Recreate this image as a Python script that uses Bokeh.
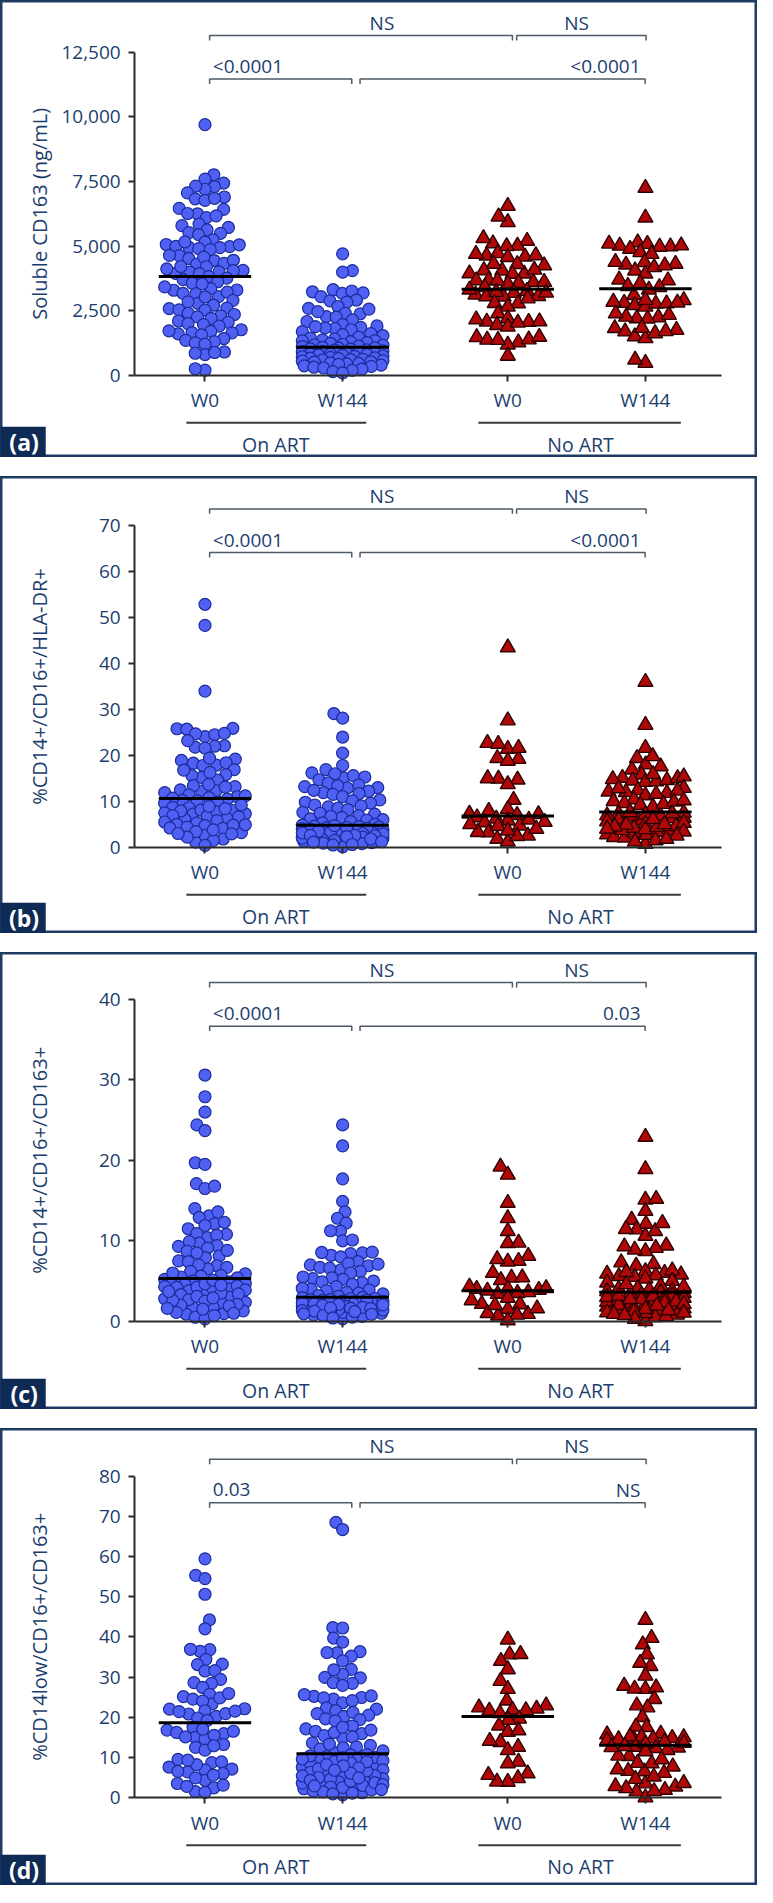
import math
from bokeh.plotting import figure
from bokeh.layouts import column
from bokeh.models import Range1d, LinearAxis, FixedTicker, NumeralTickFormatter
from bokeh.core.properties import value
from bokeh.embed import file_html
from bokeh.resources import INLINE

# ---------------- data ----------------
tick_labels = ["W0", "W144", "W0", "W144"]
art_labels = ["On ART", "No ART"]
panel_letters = ["(a)", "(b)", "(c)", "(d)"]
y_titles = ["Soluble CD163 (ng/mL)", "%CD14+/CD16+/HLA-DR+",
            "%CD14+/CD16+/CD163+", "%CD14low/CD16+/CD163+"]
y_max = [12500, 70, 40, 80]
y_step = [2500, 10, 10, 10]

# p-value labels: [W0 vs W144 On ART, W144 On vs W144 No, W0 On vs W0 No, W0 No vs W144 No]
a_tests = ["<0.0001", "<0.0001", "NS", "NS"]
b_tests = ["<0.0001", "<0.0001", "NS", "NS"]
c_tests = ["<0.0001", "0.03", "NS", "NS"]
d_tests = ["0.03", "NS", "NS", "NS"]

# centre lines
a_lines = [3824, 1087, 3327, 3350]
b_lines = [10.6, 4.8, 6.8, 7.7]
c_lines = [5.3, 3.0, 3.8, 3.6]
d_lines = [18.6, 10.9, 20.2, 13.0]

a_on_w0 = [9700, 7760, 7590, 7440, 7300, 7200, 7320, 7060, 6900, 6830, 6770, 6850,
           6420, 6460, 6250, 6100, 6170, 6260, 5790, 5720, 5850, 5630, 5490, 5520, 5440, 5240,
           5150, 5060, 4980, 4950, 4940, 4990, 5050, 5160, 4900, 4860,
           4630, 4520, 4440, 4330, 4300, 4450, 4570, 4640, 4200,
           4060, 3990, 3930, 3940, 4210, 4120, 4000, 4050, 3820, 3760, 3700, 3620, 3560,
           3300, 3160, 3040, 3350, 3540, 3290, 3170, 3220, 3420,
           2900, 2780, 2710, 2840, 3030, 2580, 2520, 2600, 2530,
           2400, 2350, 2300, 2260, 2200, 2100, 2050, 2000, 1960, 1900,
           1760, 1700, 1650, 1600, 1560, 1720, 1640, 1420, 1350, 1300, 1250, 1200,
           900, 800, 850, 880, 200, 250]
a_on_w144 = [4700, 4050, 3990, 3310, 3230, 3170, 3190, 3260, 3040, 2880, 2910, 2830, 2590, 2660,
             2400, 2380, 2270, 2250, 2140, 2080, 2560, 2460, 1960, 1910, 1850, 1810, 1760, 1690, 1830, 1880,
             1610, 1570, 1530, 1470, 1440, 1410, 1370, 1340, 1330, 1290, 1260, 1230, 1190, 1170, 1160, 1130, 1110,
             1080, 1060, 1050, 1020, 1010, 980, 975, 940, 925, 910, 890, 860, 855, 830, 815, 800, 785, 770,
             745, 730, 715, 690, 675, 660, 645, 615, 600, 590, 565, 550, 520, 505, 480, 455, 440, 420,
             390, 365, 340, 310, 280, 235, 190, 140, 90]
a_no_w0 = [6550, 5920, 6140, 5200, 5010, 4990, 5100, 5300, 4630, 4590, 4720, 4690, 4570, 4640,
           3930, 3940, 4050, 4250, 4310, 4300, 4060, 3920, 4080, 3600, 3670, 3540, 3680, 3570, 3610, 3660, 3410,
           3180, 3260, 3120, 3050, 3060, 3190, 3310, 3040, 3220, 2780, 2650, 2790, 2970,
           2390, 2200, 2070, 1940, 1880, 2060, 2080, 2030, 2160, 1470, 1370, 1270, 1380, 1180, 1360, 1480, 750]
a_no_w144 = [7250, 6100, 5140, 5010, 4980, 4890, 4970, 5020, 5080, 5090, 4760, 4690,
             4370, 4310, 4280, 4050, 3930, 4180, 4250, 4380, 3670, 3700, 3560, 3410, 3100, 3310, 3450,
             2900, 2800, 2710, 2650, 2770, 2840, 2780, 2810, 2910, 2240, 2200, 2190, 2260, 2330, 2390,
             1820, 1750, 1690, 1500, 1430, 1620, 1700, 1830, 470, 600]

b_on_w0 = [52.9, 48.3, 34.0, 25.8, 25.9, 25.7, 24.1, 24.5, 24.7, 24.8, 22.1, 21.8, 22.0, 23.2, 21.6,
           19.2, 18.3, 17.8, 17.9, 18.4, 19.4, 18.9, 16.9, 15.8, 15.2, 14.6, 15.6, 16.3, 16.8,
           13.2, 12.3, 12.2, 13.7, 13.4, 12.5, 11.9, 13.1, 11.4, 11.0, 10.8, 10.5, 10.2, 9.9, 11.2, 10.7, 10.1, 9.6,
           8.6, 8.0, 7.2, 6.4, 7.3, 8.1, 8.7, 6.8, 7.7, 6.1, 9.2, 8.9, 8.4, 7.9, 7.5, 6.9, 6.6, 5.8, 5.3,
           5.5, 5.0, 4.7, 4.4, 4.1, 3.2, 1.8, 1.1, 2.6, 3.4, 4.2, 4.8, 2.2, 3.0, 1.5, 0.4, 4.9, 3.8, 2.9]
b_on_w144 = [29.1, 28.1, 24.0, 20.5, 17.8, 16.2, 15.1, 16.9, 15.6, 14.7, 15.3, 16.0, 13.2, 13.6, 14.0, 13.0, 12.9, 13.4,
             12.2, 11.9, 11.5, 11.0, 12.4, 11.7, 10.3, 9.8, 9.2, 8.8, 8.5, 9.6, 10.1, 9.0, 8.2,
             7.6, 7.2, 6.9, 6.5, 6.2, 5.9, 5.6, 7.4, 6.7, 6.0, 5.3, 5.0, 4.8, 4.6, 4.4, 4.2, 4.0, 3.8, 3.6, 3.4, 3.2,
             4.5, 4.1, 3.9, 3.0, 2.7, 2.4, 2.2, 1.9, 1.6, 1.3, 1.0, 2.8, 2.0, 1.4, 0.8, 0.1,
             4.3, 3.7, 3.3, 3.1, 2.9, 2.6, 2.5, 2.3, 2.1, 1.8, 1.7, 1.5, 1.2, 0.9, 0.6, 3.5, 2.6, 1.1, 0.5, 4.7]
b_no_w0 = [43.5, 27.6, 22.7, 21.4, 19.2, 19.4, 18.8, 21.6, 22.5, 14.9, 14.7, 15.0, 13.7, 10.3,
           8.3, 7.2, 7.0, 5.8, 7.3, 7.9, 6.5, 6.2, 5.4, 4.7, 3.2, 2.5, 1.8, 1.2, 2.4, 3.3, 4.6, 5.0, 5.5, 6.0, 4.0, 3.6]
b_no_w144 = [36.0, 26.6, 21.6, 19.4, 17.6, 18.0, 19.8, 16.9, 15.8, 15.1, 14.8, 14.5, 14.2, 14.3, 14.6, 15.0, 15.4, 15.9,
             12.9, 12.4, 12.1, 11.8, 11.3, 11.6, 12.0, 12.3, 12.8, 10.4, 10.0, 9.6, 9.2, 8.8, 9.4, 9.9, 10.2,
             7.3, 6.9, 6.4, 6.0, 5.6, 5.9, 6.3, 6.7, 7.1, 7.5, 3.6, 3.3, 2.8, 2.2, 0.7, 2.1, 2.7, 3.2, 3.7,
             5.1, 4.6, 4.2, 3.9, 4.4, 4.9, 1.5, 1.2, 7.6, 7.4, 6.8, 6.1, 5.3, 5.0, 4.5, 4.0, 3.4, 2.5, 1.8]

c_on_w0 = [30.6, 27.9, 26.0, 24.4, 23.7, 19.7, 19.5, 17.1, 16.5, 16.8, 14.0, 13.1, 12.9, 13.6, 12.1, 12.3, 11.5, 11.9,
           10.8, 10.4, 10.7, 10.9, 9.7, 9.3, 9.4, 9.1, 9.9, 8.7, 8.1, 7.9, 8.5, 8.8, 7.5, 6.9, 6.5, 7.4, 6.7, 7.0, 6.2,
           5.9, 5.6, 5.4, 5.2, 5.0, 4.8, 5.5, 5.7, 6.0, 4.9, 4.6, 4.2, 4.0, 3.6, 3.8, 4.25, 4.05, 4.65, 3.3, 3.0,
           2.3, 1.7, 0.9, 0.5, 0.3, 0.95, 1.75, 2.35, 2.7, 2.0, 1.3, 1.1,
           5.1, 4.7, 4.4, 4.3, 3.9, 3.5, 3.4, 3.1, 2.8, 2.6, 2.5, 2.1, 1.9, 1.5, 1.0, 0.7, 4.5, 3.7, 2.9, 1.6]
c_on_w144 = [24.4, 21.8, 17.7, 14.9, 13.6, 12.8, 12.2, 11.2, 11.25, 10.0, 10.1, 8.5, 8.2, 8.6, 8.4, 8.0, 8.55,
             7.4, 7.0, 6.7, 6.4, 6.6, 7.2, 6.9, 6.2, 6.0, 7.1, 5.3, 5.5, 5.2, 5.0, 4.8, 4.6, 5.4, 4.9,
             4.3, 4.0, 3.8, 3.6, 3.4, 3.2, 4.1, 3.9, 3.5, 3.1, 2.9, 2.7, 2.5, 2.3, 2.1, 1.9, 1.7, 1.5, 2.8, 2.4, 2.2, 2.6,
             1.3, 1.0, 0.6, 0.3, 0.8, 1.1, 1.4, 1.8, 2.96, 2.83, 2.71, 2.62, 2.47, 2.31, 2.18, 2.04, 1.97, 1.83,
             1.72, 1.61, 1.58, 1.44, 1.33, 1.27, 1.12, 0.93, 0.87, 0.72, 0.52, 2.09, 1.66, 1.21, 0.41]
c_no_w0 = [19.2, 18.2, 14.7, 12.8, 11.2, 9.7, 9.75, 8.1, 7.5, 7.4, 7.7, 6.0, 5.4, 5.45, 5.1,
           4.0, 3.9, 4.1, 3.6, 3.4, 4.05, 3.8, 4.3, 3.5, 1.5, 0.9, 0.7, 2.1, 2.15, 1.6, 0.8, 1.0, 2.0, 2.6, 2.9, 0.1]
c_no_w144 = [22.9, 18.9, 15.1, 15.2, 13.7, 12.6, 12.1, 11.4, 10.6, 11.2, 11.45, 12.2, 9.4, 9.1, 8.7, 8.9, 9.3,
             7.3, 7.1, 6.9, 6.2, 6.0, 5.8, 5.6, 5.5, 5.7, 5.9, 6.1, 6.3, 5.3, 5.0, 4.8,
             4.4, 4.1, 3.9, 3.7, 3.5, 3.3, 3.4, 3.8, 4.0, 4.3, 4.6, 3.6, 2.5, 2.2, 1.9, 1.6, 1.3, 1.8, 2.1, 2.4, 2.7,
             2.9, 3.1, 1.1, 0.0, 0.5, 0.8, 1.0, 1.4, 3.2, 3.0, 2.8, 2.6, 2.3, 2.0, 1.7, 1.5, 1.2, 0.9, 0.6, 0.3,
             2.45, 1.95, 3.15, 2.75, 1.35, 0.75, 2.15, 1.05]

d_on_w0 = [59.4, 55.3, 54.5, 50.6, 44.2, 42.0, 36.8, 36.4, 36.9, 34.4, 33.1, 33.2, 31.5, 31.6, 29.4, 28.4, 28.6, 27.4, 25.7,
           25.1, 24.5, 23.3, 24.8, 25.9, 24.0, 20.8, 20.2, 22.0, 21.6, 22.1, 21.4, 20.9, 21.5, 19.8, 19.2,
           17.5, 16.8, 16.2, 15.9, 15.0, 14.6, 15.1, 15.5, 16.5, 17.0, 13.2, 12.5, 11.8, 12.9,
           9.5, 8.7, 7.6, 6.9, 6.4, 6.5, 7.1, 8.2, 9.3, 8.9, 6.0, 3.5, 2.4, 1.5, 1.3, 2.8, 4.3, 5.6, 4.9, 3.1]
d_on_w144 = [68.5, 66.7, 42.3, 42.2, 39.7, 38.7, 36.3, 36.0, 35.2, 36.1, 34.0, 31.9, 30.7, 29.8, 29.9, 31.8, 28.4, 28.6, 27.9,
             24.5, 25.2, 24.8, 24.9, 25.3, 25.6, 23.6, 24.1, 22.3, 21.6, 20.9, 20.2, 19.6, 19.1, 21.2, 22.0, 20.5, 19.4,
             17.8, 17.1, 16.5, 15.9, 15.4, 14.9, 16.2, 16.8, 17.5, 15.1, 13.6, 13.0, 12.6, 12.1, 11.6, 11.2, 12.4, 13.3,
             10.6, 10.2, 9.8, 9.4, 9.0, 8.6, 8.1, 7.6, 10.0, 9.2, 8.4, 6.9, 6.3, 5.8, 5.2, 4.7, 4.4, 3.9, 3.3, 2.8,
             2.2, 1.6, 0.7, 1.2, 2.5, 3.6, 4.1, 5.5, 6.6, 7.2, 5.0, 3.0, 1.9,
             10.7, 10.4, 9.6, 8.9, 8.2, 7.4, 6.1, 5.4, 4.6, 4.3, 3.7, 3.2, 2.6, 2.0, 1.4, 0.9, 9.9, 7.9, 6.8, 4.9, 2.9, 1.1]
d_no_w0 = [39.3, 35.6, 34.0, 35.7, 31.9, 29.0, 27.0, 24.1, 22.4, 21.6, 21.0, 22.9, 22.1, 21.8, 21.7,
           19.6, 19.3, 17.9, 16.3, 16.7, 12.6, 13.8, 14.1, 11.8, 8.9, 8.5, 6.0, 4.8, 3.9, 3.95, 5.6]
d_no_w144 = [44.2, 39.7, 38.1, 35.6, 32.7, 33.5, 30.3, 27.0, 27.8, 27.4, 27.1, 24.5, 22.4, 22.9, 20.0, 17.5, 17.6,
             15.0, 14.8, 14.5, 14.6, 15.1, 15.9, 15.7, 15.2, 14.7, 12.3, 10.3, 12.4, 10.4, 11.8, 12.6,
             8.5, 7.7, 6.5, 6.1, 6.6, 7.0, 8.6, 3.5, 2.7, 1.9, 1.5, 0.0, 1.6, 2.3, 2.8, 3.6,
             13.6, 13.9, 14.2, 13.4, 12.8, 12.5, 11.5, 9.5, 5.2, 4.6]

panel_groups = [[a_on_w0, a_on_w144, a_no_w0, a_no_w144],
                [b_on_w0, b_on_w144, b_no_w0, b_no_w144],
                [c_on_w0, c_on_w144, c_no_w0, c_no_w144],
                [d_on_w0, d_on_w144, d_no_w0, d_no_w144]]
panel_lines = [a_lines, b_lines, c_lines, d_lines]
panel_tests = [a_tests, b_tests, c_tests, d_tests]

# ---------------- layout / style ----------------
FIG_W, FIG_H, GAP = 757, 457, 19
REF_W, REF_H = 770.0, 461.0          # reference panel size (px)
PXU = 14.0                            # reference px per x unit
POS = [10, 20, 32, 42]                # x positions of the four columns
W0_PX = 208.0                         # px from panel left to first column
ZERO_PX = [378.0, 374.0, 372.0, 372.3]   # px from panel top to y = 0
TOP_PX = [52.3, 49.7, 47.3, 48.0]        # px from panel top to top tick

NAVY = "#1d3b63"
TXT = "#1c3e6e"
BOX = "#0d2b55"
AXC = "#2a2a2a"
BLUE, BLUE_EDGE = "#4f60f2", "#1c2c9c"
RED, RED_EDGE = "#b00808", "#2c0202"
FONT = "Open Sans"
FS = "19px"


def swarm(vals, upp, d, half):
    ys = [v / upp for v in vals]
    order = sorted(range(len(vals)), key=lambda i: ys[i])
    xs = [0.0] * len(vals)
    done = []
    flip = 1
    for i in order:
        y = ys[i]
        near = [(xs[j], y - ys[j]) for j in done if abs(y - ys[j]) < d]
        blocked = []
        for x, dy in near:
            w = math.sqrt(d * d - dy * dy)
            blocked.append((x - w, x + w))
        cands = {0.0}
        for a, b in blocked:
            cands.add(a)
            cands.add(b)
        ok = [c for c in cands if abs(c) <= half and
              all(not (a + 1e-6 < c < b - 1e-6) for a, b in blocked)]
        if ok:
            best = min(ok, key=lambda c: (round(abs(c), 3), -flip * c))
        else:
            best = min((half * k / 10.0 for k in range(-10, 11)),
                       key=lambda c: sum(max(0.0, d - math.hypot(c - x, dy)) for x, dy in near))
        flip = -flip
        xs[i] = best
        done.append(i)
    return xs


figs = []
for k in range(4):
    ymax = y_max[k]
    upp = ymax / (ZERO_PX[k] - TOP_PX[k])
    y0 = -(REF_H - ZERO_PX[k]) * upp
    y1 = ymax + TOP_PX[k] * upp
    x0 = POS[0] - W0_PX / PXU
    x1 = x0 + REF_W / PXU

    p = figure(width=FIG_W, height=FIG_H, x_range=Range1d(x0, x1), y_range=Range1d(y0, y1),
               output_backend="svg", toolbar_location=None, x_axis_type=None, y_axis_type=None,
               min_border=0)
    p.min_border_left = p.min_border_right = p.min_border_top = p.min_border_bottom = 0
    p.background_fill_color = "white"
    p.border_fill_color = "white"
    p.outline_line_color = NAVY
    p.outline_line_width = 4

    yaxis_x = POS[0] + (137.5 - 1 - W0_PX) / PXU
    xaxis_end = POS[0] + (734 - 1 - W0_PX) / PXU

    yax = LinearAxis(fixed_location=yaxis_x, bounds=(0, ymax),
                     ticker=FixedTicker(ticks=list(range(0, ymax + 1, y_step[k]))),
                     formatter=NumeralTickFormatter(format="0,0"))
    xax = LinearAxis(fixed_location=0, bounds=(yaxis_x, xaxis_end),
                     ticker=FixedTicker(ticks=POS),
                     major_label_overrides={POS[i]: tick_labels[i] for i in range(4)})
    for ax in (yax, xax):
        ax.axis_line_color = AXC
        ax.axis_line_width = 2
        ax.major_tick_line_color = AXC
        ax.major_tick_line_width = 2
        ax.major_tick_out = 6
        ax.major_tick_in = 0
        ax.minor_tick_line_color = None
        ax.major_label_text_font = FONT
        ax.major_label_text_font_size = FS
        ax.major_label_text_color = TXT
    yax.major_label_standoff = 8
    xax.major_label_standoff = 6
    p.add_layout(yax, "left")
    p.add_layout(xax, "below")

    # y-axis title as rotated text, centred on the axis span
    p.text([x0 + 40 / PXU], [ymax / 2.0], text=[y_titles[k]], angle=math.pi / 2,
           text_align="center", text_baseline="middle", text_font=value(FONT),
           text_font_size="20px", text_color=TXT)

    # points
    for g in range(4):
        vals = panel_groups[k][g]
        if g < 2:
            offs = swarm(vals, upp, 10.0, 41.0)
            p.scatter([POS[g] + o / PXU for o in offs], vals, marker="circle", size=12,
                      fill_color=BLUE, line_color=BLUE_EDGE, line_width=1.2)
        else:
            offs = swarm(vals, upp, 11.0, 39.0)
            p.scatter([POS[g] + o / PXU for o in offs], vals, marker="triangle", size=15,
                      fill_color=RED, line_color=RED_EDGE, line_width=1.4)
    half = 47.0 / PXU
    p.segment(x0=[c - half for c in POS], x1=[c + half for c in POS],
              y0=panel_lines[k], y1=panel_lines[k], line_color="black", line_width=3)

    # significance brackets
    lo = ymax - 27 * upp
    hi = ymax + 17 * upp
    t = 5 * upp
    br = [((POS[0] + 4.7 / PXU, POS[1] + 9.3 / PXU), lo),
          ((POS[1] + 17.7 / PXU, POS[3] - 0.3 / PXU), lo),
          ((POS[0] + 4.7 / PXU, POS[2] + 4.7 / PXU), hi),
          ((POS[2] + 9.0 / PXU, POS[3] + 0.7 / PXU), hi)]
    p.multi_line([[a, a, b, b] for (a, b), yy in br], [[yy - t, yy, yy, yy - t] for (a, b), yy in br],
                 line_color="#4e5a66", line_width=1.5)
    tests = panel_tests[k]
    p.text([POS[0] + 8.0 / PXU], [lo + 13 * upp], text=[tests[0]], text_align="left",
           text_baseline="middle", text_font=value(FONT), text_font_size=FS, text_color=TXT)
    p.text([POS[3] - 5.0 / PXU], [lo + 13 * upp], text=[tests[1]], text_align="right",
           text_baseline="middle", text_font=value(FONT), text_font_size=FS, text_color=TXT)
    p.text([POS[0] + 180.0 / PXU, (POS[2] + POS[3]) / 2.0], [hi + 13 * upp] * 2, text=[tests[2], tests[3]],
           text_align="center", text_baseline="middle", text_font=value(FONT),
           text_font_size=FS, text_color=TXT)

    # group underlines and labels
    gl = -48 * upp
    p.segment(x0=[POS[0] - 19 / PXU, POS[2] - 30 / PXU], x1=[POS[1] + 24 / PXU, POS[3] + 36 / PXU],
              y0=[gl, gl], y1=[gl, gl], line_color="#3a3a3a", line_width=2)
    p.text([(POS[0] + POS[1]) / 2.0 + 2 / PXU, (POS[2] + POS[3]) / 2.0 + 4 / PXU], [-69.5 * upp] * 2,
           text=art_labels, text_align="center", text_baseline="middle",
           text_font=value(FONT), text_font_size="19.5px", text_color=TXT)

    # panel letter box
    p.quad(left=[x0], right=[x0 + 46 / PXU], bottom=[y0], top=[y0 + 31 * upp],
           fill_color=BOX, line_color=None)
    p.text([x0 + 24 / PXU], [y0 + 15.5 * upp], text=[panel_letters[k]], text_align="center",
           text_baseline="middle", text_font=value(FONT), text_font_style="bold",
           text_font_size="23px", text_color="white")
    figs.append(p)

layout = column(*figs, spacing=GAP)
open("out.html", "w").write(file_html(layout, INLINE))
